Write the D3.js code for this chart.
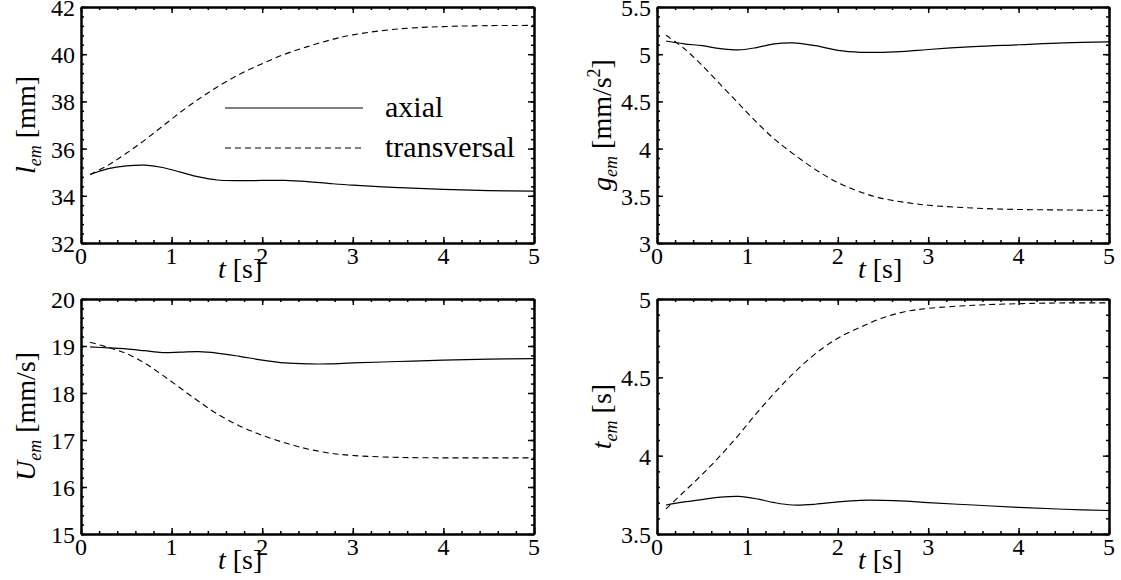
<!DOCTYPE html>
<html><head><meta charset="utf-8">
<script src="https://cdn.jsdelivr.net/npm/d3@7"></script>
<style>
html,body{margin:0;padding:0;background:#fff;}
</style></head>
<body><svg id="c" width="1121" height="580"></svg>
<script>
// ---- data ----
const time = [0.1,0.3,0.5,0.7,0.9,1.1,1.3,1.5,1.75,2.0,2.25,2.5,2.75,3.0,3.5,4.0,4.5,5.0];
const lAxial = [34.9,35.15,35.27,35.3,35.2,35.0,34.8,34.67,34.64,34.65,34.65,34.6,34.52,34.45,34.35,34.27,34.22,34.2];
const lTrans = [34.9,35.3,35.8,36.35,36.95,37.55,38.1,38.6,39.15,39.6,40.0,40.32,40.6,40.82,41.07,41.17,41.21,41.22];
const gAxial = [5.14,5.11,5.09,5.06,5.045,5.07,5.11,5.12,5.09,5.04,5.02,5.02,5.03,5.05,5.08,5.1,5.12,5.13];
const gTrans = [5.2,5.06,4.88,4.68,4.48,4.28,4.1,3.95,3.78,3.64,3.54,3.47,3.43,3.4,3.37,3.355,3.35,3.345];
const uAxial = [18.98,18.96,18.94,18.9,18.86,18.87,18.88,18.85,18.78,18.7,18.64,18.62,18.62,18.64,18.67,18.7,18.72,18.73];
const uTrans = [19.08,18.97,18.84,18.64,18.38,18.1,17.82,17.56,17.3,17.1,16.94,16.81,16.72,16.67,16.63,16.62,16.62,16.62];
const tAxial = [3.685,3.705,3.72,3.735,3.74,3.725,3.7,3.685,3.69,3.705,3.715,3.715,3.71,3.7,3.685,3.67,3.658,3.65];
const tTrans = [3.66,3.77,3.88,4.0,4.13,4.27,4.4,4.52,4.65,4.75,4.82,4.88,4.92,4.94,4.96,4.97,4.975,4.975];
const xTicks = [0,1,2,3,4,5];
const lTicks = [32,34,36,38,40,42];
const gTicks = [3,3.5,4,4.5,5,5.5];
const uTicks = [15,16,17,18,19,20];
const tTicks = [3.5,4,4.5,5];
const legendLabels = ["axial","transversal"];

// ---- layout ----
const FONT = '"Liberation Serif"';
const svg = d3.select("#c");
const panels = [
  {x0:81, x1:534, y0:7, y1:243, dom:[32,42], ticks:lTicks, minor:0.4, a:lAxial, b:lTrans, sym:"l", unit:" [mm]", sup:null, xl:218},
  {x0:657, x1:1109, y0:7, y1:243, dom:[3,5.5], ticks:gTicks, minor:0.1, a:gAxial, b:gTrans, sym:"g", unit:" [mm/s", sup:"2", xl:858},
  {x0:81, x1:534, y0:299, y1:534, dom:[15,20], ticks:uTicks, minor:0.2, a:uAxial, b:uTrans, sym:"U", unit:" [mm/s]", sup:null, xl:218},
  {x0:657, x1:1109, y0:299, y1:534, dom:[3.5,5], ticks:tTicks, minor:0.1, a:tAxial, b:tTrans, sym:"t", unit:" [s]", sup:null, xl:858}
];
const fmt = d => String(+d.toFixed(2));
const rng = (a,b,s) => { const r=[]; for(let v=a; v<=b+1e-9; v+=s) r.push(+v.toFixed(4)); return r; };
const txt = (sel) => sel.append("text").style("font-family",FONT).attr("fill","#000");

panels.forEach(p => {
  const x = d3.scaleLinear().domain([0,5]).range([p.x0,p.x1]);
  const y = d3.scaleLinear().domain(p.dom).range([p.y1,p.y0]);
  const g = svg.append("g");
  const xMinor = rng(0,5,0.2);
  const yMinor = rng(p.dom[0],p.dom[1],p.minor);
  const style = sel => { sel.selectAll("path.domain").attr("stroke","#000").attr("stroke-width",2);
                         sel.selectAll(".tick line").attr("stroke","#000").attr("stroke-width",1.5);
                         sel.selectAll(".tick text").remove(); };
  g.append("g").attr("transform",`translate(0,${p.y1})`).call(d3.axisBottom(x).tickValues(xMinor).tickSize(-3).tickSizeOuter(0)).call(style);
  g.append("g").attr("transform",`translate(0,${p.y0})`).call(d3.axisTop(x).tickValues(xMinor).tickSize(-3).tickSizeOuter(0)).call(style);
  g.append("g").attr("transform",`translate(${p.x0},0)`).call(d3.axisLeft(y).tickValues(yMinor).tickSize(-3).tickSizeOuter(0)).call(style);
  g.append("g").attr("transform",`translate(${p.x1},0)`).call(d3.axisRight(y).tickValues(yMinor).tickSize(-3).tickSizeOuter(0)).call(style);
  g.append("g").attr("transform",`translate(0,${p.y1})`).call(d3.axisBottom(x).tickValues(xTicks).tickSize(-6).tickSizeOuter(0)).call(style);
  g.append("g").attr("transform",`translate(0,${p.y0})`).call(d3.axisTop(x).tickValues(xTicks).tickSize(-6).tickSizeOuter(0)).call(style);
  g.append("g").attr("transform",`translate(${p.x0},0)`).call(d3.axisLeft(y).tickValues(p.ticks).tickSize(-6).tickSizeOuter(0)).call(style);
  g.append("g").attr("transform",`translate(${p.x1},0)`).call(d3.axisRight(y).tickValues(p.ticks).tickSize(-6).tickSizeOuter(0)).call(style);

  xTicks.forEach(v => {
    txt(g).attr("x",x(v)).attr("y",p.y1+21).attr("text-anchor","middle").attr("font-size",24).text(fmt(v));
  });
  p.ticks.forEach(v => {
    txt(g).attr("x",p.x0-6).attr("y",y(v)+9).attr("text-anchor","end").attr("font-size",24).text(fmt(v));
  });

  const line = d3.line().x((d,i)=>x(time[i])).y(d=>y(d)).curve(d3.curveCatmullRom.alpha(0.5));
  g.append("path").attr("d",line(p.a)).attr("fill","none").attr("stroke","#000").attr("stroke-width",1.2);
  g.append("path").attr("d",line(p.b)).attr("fill","none").attr("stroke","#000").attr("stroke-width",1.1).attr("stroke-dasharray","6,4");

  const xt = txt(g).attr("x",p.xl).attr("y",p.y1+35).attr("font-size",28);
  xt.append("tspan").attr("font-style","italic").text("t");
  xt.append("tspan").text(" [s]");
  const cy = (p.y0+p.y1)/2;
  const yt = txt(g).attr("transform",`translate(${p.x0-46},${cy}) rotate(-90)`)
     .attr("text-anchor","middle").attr("font-size",28);
  yt.append("tspan").attr("font-style","italic").text(p.sym);
  yt.append("tspan").attr("font-style","italic").attr("font-size",18).attr("dy",6).text("em");
  yt.append("tspan").attr("dy",-6).text(p.unit);
  if (p.sup) {
    yt.append("tspan").attr("font-size",18).attr("dy",-11).text(p.sup);
    yt.append("tspan").attr("dy",11).text("]");
  }
});

const lg = svg.append("g");
legendLabels.forEach((lab,i) => {
  const yy = 108 + i*40;
  lg.append("line").attr("x1",225).attr("x2",363).attr("y1",yy).attr("y2",yy)
    .attr("stroke","#000").attr("stroke-width",i?1.1:1.2).attr("stroke-dasharray",i?"6,4":null);
  txt(lg).attr("x",385).attr("y",yy+9).attr("font-size",30).text(lab);
});
</script></body></html>
